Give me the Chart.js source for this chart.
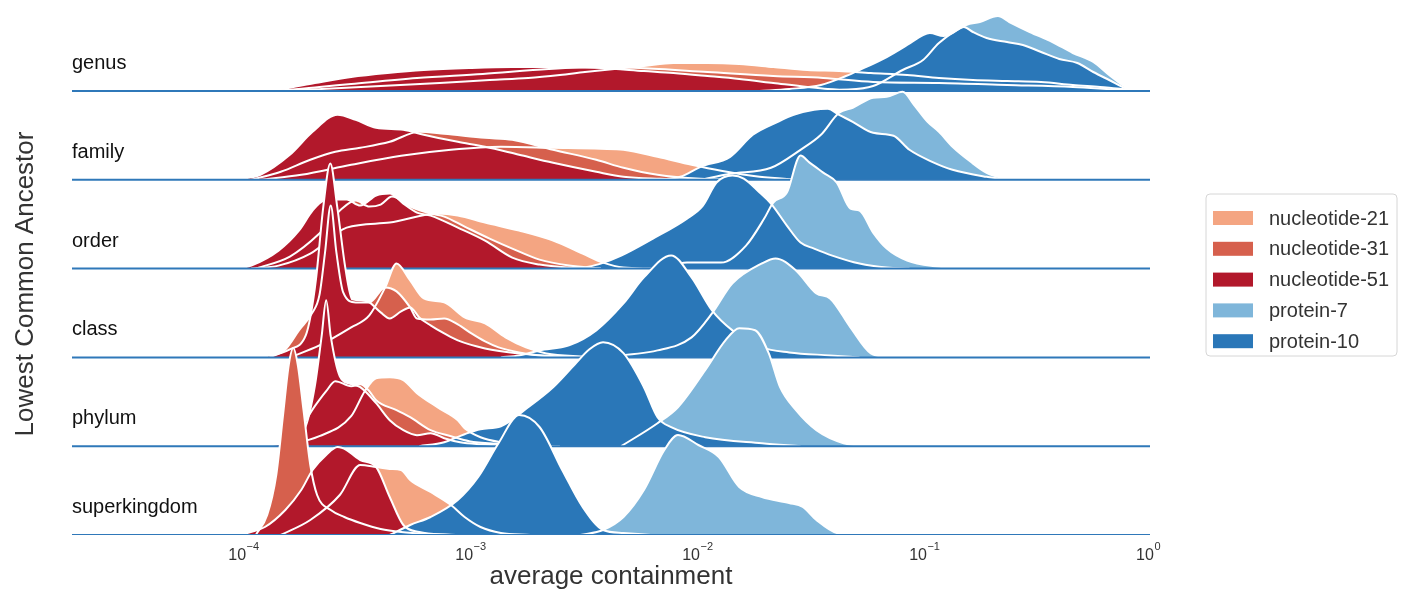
<!DOCTYPE html>
<html>
<head>
<meta charset="utf-8">
<script src="https://cdn.jsdelivr.net/npm/chart.js"></script>
<style>
html,body{margin:0;padding:0;background:#ffffff;overflow:hidden}
#wrap{position:relative;width:1407px;height:592px}
</style>
</head>
<body>
<div id="wrap"><canvas id="c" width="1407" height="592"></canvas></div>
<script>
// ---------------- categories / series / ticks ----------------
const ranks = ['genus', 'family', 'order', 'class', 'phylum', 'superkingdom'];
const seriesNames = ['nucleotide-21', 'nucleotide-31', 'nucleotide-51', 'protein-7', 'protein-10'];
const tickExponents = [-4, -3, -2, -1, 0];

// ---------------- density curves: [log10(average containment), relative density] ----------------
const genus_n21 = [[-4.40,0],[-3.74,1],[-3.65,2],[-3.39,5],[-3.13,8],[-2.91,11],[-2.74,13],[-2.60,16],[-2.49,19],[-2.36,22],[-2.23,25],[-2.10,28],[-1.95,28],[-1.81,27],[-1.66,24],[-1.51,21],[-1.37,20],[-1.23,18],[-1.07,16],[-0.93,13],[-0.78,11],[-0.63,10],[-0.48,9],[-0.34,6],[-0.22,4],[-0.12,2],[0,1]];
const genus_n31 = [[-4.50,0],[-3.96,0.5],[-3.81,1],[-3.66,4],[-3.52,7],[-3.23,13],[-2.94,17],[-2.65,22],[-2.42,24],[-2.25,23],[-1.95,19],[-1.66,15],[-1.44,13],[-1.22,9],[-0.93,8],[-0.63,6],[-0.34,4],[-0.12,1],[0,0]];
const genus_n51 = [[-4.50,0],[-4.01,0.5],[-3.83,2],[-3.68,8],[-3.52,14],[-3.36,18],[-3.20,21],[-3.00,23],[-2.81,24],[-2.62,24],[-2.42,23],[-2.23,20],[-2.10,18],[-1.95,15],[-1.81,12],[-1.66,8],[-1.51,4],[-1.42,2],[-1.23,0]];
const genus_p7  = [[-1.45,0],[-1.37,1],[-1.22,5],[-1.09,21],[-1.00,31],[-0.93,48],[-0.81,66],[-0.75,69],[-0.67,75],[-0.62,69],[-0.53,59],[-0.43,49],[-0.34,38],[-0.25,29],[-0.18,16],[-0.10,3],[-0.04,0]];
const genus_p10 = [[-1.72,0],[-1.59,2],[-1.45,6],[-1.34,15],[-1.28,21],[-1.16,34],[-1.07,46],[-1.00,56],[-0.97,58],[-0.91,55],[-0.87,58],[-0.82,64],[-0.78,59],[-0.72,53],[-0.63,49],[-0.56,46],[-0.48,39],[-0.40,32],[-0.32,28],[-0.25,19],[-0.18,11],[-0.10,2],[-0.04,0]];

const family_n21 = [[-3.92,0],[-3.74,5],[-3.52,15],[-3.30,24],[-3.08,30],[-2.86,33],[-2.63,32],[-2.42,31],[-2.32,30],[-2.17,23],[-2.02,15],[-1.89,9],[-1.72,3],[-1.54,0]];
const family_n31 = [[-3.96,0],[-3.83,8],[-3.70,20],[-3.59,28],[-3.48,32],[-3.35,38],[-3.22,48],[-3.11,46],[-2.93,42],[-2.81,40],[-2.63,30],[-2.44,20],[-2.32,12],[-2.17,5],[-1.98,1],[-1.81,0]];
const family_n51 = [[-4.03,0],[-3.92,5],[-3.79,25],[-3.69,48],[-3.58,65],[-3.50,60],[-3.41,52],[-3.29,50],[-3.20,45],[-3.05,38],[-2.93,33],[-2.78,25],[-2.63,17],[-2.44,8],[-2.32,3],[-2.16,1],[-1.98,0]];
const family_p7  = [[-1.98,0],[-1.85,6],[-1.67,12],[-1.54,30],[-1.45,45],[-1.37,67],[-1.31,72],[-1.22,82],[-1.16,83],[-1.09,88],[-1.04,75],[-0.98,58],[-0.93,48],[-0.87,33],[-0.79,18],[-0.72,7],[-0.65,2],[-0.57,0]];
const family_p10 = [[-2.16,0],[-2.07,3],[-1.98,13],[-1.85,23],[-1.75,45],[-1.64,58],[-1.57,65],[-1.48,70],[-1.42,71],[-1.37,65],[-1.31,58],[-1.22,47],[-1.13,44],[-1.06,30],[-0.96,18],[-0.87,10],[-0.72,3],[-0.62,0]];

const order_n21 = [[-3.96,0],[-3.84,3],[-3.70,15],[-3.54,41],[-3.35,46],[-3.14,55],[-3.05,53],[-2.93,46],[-2.78,38],[-2.63,28],[-2.50,15],[-2.41,6],[-2.32,1],[-2.20,0]];
const order_n31 = [[-3.94,0],[-3.79,12],[-3.66,35],[-3.56,60],[-3.50,68],[-3.44,62],[-3.39,64],[-3.34,72],[-3.26,62],[-3.17,55],[-3.11,52],[-3.02,42],[-2.91,30],[-2.81,20],[-2.69,9],[-2.56,3],[-2.42,0]];
const order_n51 = [[-4.01,0],[-3.96,3],[-3.84,18],[-3.75,38],[-3.69,58],[-3.64,68],[-3.59,69],[-3.54,69],[-3.48,63],[-3.41,73],[-3.35,75],[-3.29,65],[-3.23,56],[-3.17,53],[-3.05,41],[-2.93,28],[-2.81,11],[-2.69,4],[-2.56,1],[-2.42,0]];
const order_p7  = [[-2.16,0],[-2.04,6],[-1.89,6],[-1.78,23],[-1.70,50],[-1.66,66],[-1.60,76],[-1.54,113],[-1.50,106],[-1.44,96],[-1.38,86],[-1.32,60],[-1.28,58],[-1.22,36],[-1.16,20],[-1.07,8],[-0.94,2],[-0.84,0]];
const order_p10 = [[-2.51,0],[-2.42,5],[-2.33,13],[-2.19,30],[-2.04,50],[-1.97,63],[-1.91,86],[-1.84,93],[-1.79,90],[-1.72,76],[-1.67,65],[-1.60,43],[-1.54,26],[-1.48,20],[-1.40,13],[-1.28,5],[-1.16,1],[-1.06,0]];

const class_n21 = [[-3.79,0],[-3.66,12],[-3.52,30],[-3.44,42],[-3.37,70],[-3.32,94],[-3.26,77],[-3.20,59],[-3.11,55],[-3.02,40],[-2.93,34],[-2.84,20],[-2.75,10],[-2.66,4],[-2.51,1],[-2.38,0]];
const class_n31 = [[-3.88,0],[-3.81,8],[-3.75,27],[-3.69,45],[-3.66,62],[-3.635,105],[-3.61,152],[-3.585,105],[-3.555,65],[-3.50,55],[-3.44,55],[-3.37,70],[-3.32,66],[-3.26,50],[-3.23,39],[-3.17,38],[-3.11,39],[-3.05,33],[-2.99,24],[-2.93,16],[-2.87,10],[-2.78,5],[-2.64,1],[-2.51,0]];
const class_n51 = [[-3.92,0],[-3.79,8],[-3.72,22],[-3.70,40],[-3.674,80],[-3.643,150],[-3.612,194],[-3.581,150],[-3.546,90],[-3.515,58],[-3.47,57],[-3.44,55],[-3.39,45],[-3.35,39],[-3.30,46],[-3.26,50],[-3.22,40],[-3.17,32],[-3.11,24],[-3.05,17],[-2.93,9],[-2.78,4],[-2.60,1],[-2.42,0]];
const class_p7  = [[-2.48,0],[-2.17,7],[-2.02,20],[-1.93,44],[-1.84,74],[-1.71,94],[-1.65,99],[-1.56,87],[-1.47,64],[-1.41,59],[-1.32,30],[-1.23,4],[-1.15,0]];
const class_p10 = [[-2.86,0],[-2.78,2],[-2.69,7],[-2.56,12],[-2.44,27],[-2.32,54],[-2.23,80],[-2.11,102],[-2.02,80],[-1.93,47],[-1.84,27],[-1.71,10],[-1.59,5],[-1.41,2],[-1.28,0]];

const phylum_n21 = [[-3.83,0],[-3.66,10],[-3.52,30],[-3.46,55],[-3.41,68],[-3.35,69],[-3.29,66],[-3.23,53],[-3.14,39],[-3.05,26],[-3.02,18],[-2.95,9],[-2.86,4],[-2.73,1],[-2.60,0]];
const phylum_n31 = [[-3.90,0],[-3.77,10],[-3.68,40],[-3.63,55],[-3.59,65],[-3.52,60],[-3.48,62],[-3.44,55],[-3.41,46],[-3.32,36],[-3.26,29],[-3.17,16],[-3.08,10],[-3.00,5],[-2.86,2],[-2.73,0]];
const phylum_n51 = [[-3.92,0],[-3.79,5],[-3.72,20],[-3.68,60],[-3.65,110],[-3.63,146],[-3.61,110],[-3.57,70],[-3.52,62],[-3.48,59],[-3.41,43],[-3.35,26],[-3.29,16],[-3.23,11],[-3.17,13],[-3.11,8],[-3.04,4],[-2.95,2],[-2.78,0]];
const phylum_p7  = [[-2.33,0],[-2.17,23],[-2.08,39],[-1.96,76],[-1.87,106],[-1.81,118],[-1.74,116],[-1.68,93],[-1.63,59],[-1.56,36],[-1.47,16],[-1.35,3],[-1.23,0]];
const phylum_p10 = [[-3.22,0],[-3.11,4],[-3.02,12],[-2.95,17],[-2.86,20],[-2.74,39],[-2.63,59],[-2.53,83],[-2.47,97],[-2.41,104],[-2.32,93],[-2.23,59],[-2.17,29],[-2.11,19],[-1.96,9],[-1.71,3],[-1.54,0]];

const superkingdom_n21 = [[-3.83,0],[-3.70,15],[-3.57,40],[-3.48,70],[-3.41,68],[-3.35,66],[-3.30,65],[-3.26,55],[-3.17,43],[-3.08,30],[-3.02,18],[-2.95,8],[-2.86,2],[-2.73,0]];
const superkingdom_n31 = [[-3.94,0],[-3.89,20],[-3.85,60],[-3.82,120],[-3.795,170],[-3.775,187],[-3.755,170],[-3.73,125],[-3.70,70],[-3.67,40],[-3.61,25],[-3.55,18],[-3.48,12],[-3.39,6],[-3.30,3],[-3.17,1],[-3.04,0]];
const superkingdom_n51 = [[-4.01,0],[-3.90,8],[-3.81,25],[-3.74,45],[-3.69,65],[-3.63,80],[-3.58,88],[-3.54,85],[-3.50,78],[-3.48,75],[-3.41,68],[-3.35,38],[-3.29,10],[-3.22,3],[-3.08,0]];
const superkingdom_p7  = [[-2.51,0],[-2.41,5],[-2.32,18],[-2.23,45],[-2.14,85],[-2.08,100],[-1.99,90],[-1.90,78],[-1.81,48],[-1.71,38],[-1.59,32],[-1.53,28],[-1.47,15],[-1.38,2],[-1.28,0]];
const superkingdom_p10 = [[-3.35,0],[-3.26,10],[-3.17,18],[-3.05,35],[-2.96,58],[-2.87,92],[-2.78,120],[-2.69,108],[-2.59,65],[-2.50,28],[-2.41,5],[-2.32,2],[-2.20,0]];

// ---------------- styling / layout (kept out of the data) ----------------
const seriesColors = ['#f4a582', '#d6604d', '#b2182b', '#7fb6da', '#2a77b8'];
const baselineColor = '#2f78b9';
const ROW_GAP = 88.8;          // density units between ridge baselines
const Y_TOP = 530;             // top of the value axis in density units
const X_MIN = Math.pow(10, -4.75), X_MAX = 1;
const FONT = '"Liberation Sans", Arial, Helvetica, sans-serif';

const curvesByRank = {
  genus: [genus_n21, genus_n31, genus_n51, genus_p7, genus_p10],
  family: [family_n21, family_n31, family_n51, family_p7, family_p10],
  order: [order_n21, order_n31, order_n51, order_p7, order_p10],
  class: [class_n21, class_n31, class_n51, class_p7, class_p10],
  phylum: [phylum_n21, phylum_n31, phylum_n51, phylum_p7, phylum_p10],
  superkingdom: [superkingdom_n21, superkingdom_n31, superkingdom_n51, superkingdom_p7, superkingdom_p10]
};

const datasets = [];
ranks.forEach((rank, r) => {
  const off = (ranks.length - 1 - r) * ROW_GAP;
  const pts = curvesByRank[rank].map(c => c.map(([lx, d]) => ({x: Math.pow(10, lx), y: off + d})));
  pts.forEach((p, s) => datasets.push({
    label: rank + ' ' + seriesNames[s], data: p,
    backgroundColor: seriesColors[s], borderColor: 'rgba(0,0,0,0)', borderWidth: 1,
    fill: {value: off}, pointRadius: 0, cubicInterpolationMode: 'monotone'
  }));
  pts.forEach((p, s) => datasets.push({
    label: rank + ' ' + seriesNames[s] + ' outline', data: p,
    borderColor: '#ffffff', borderWidth: 2, fill: false,
    pointRadius: 0, cubicInterpolationMode: 'monotone'
  }));
  datasets.push({
    label: rank + ' baseline', data: [{x: X_MIN, y: off}, {x: X_MAX, y: off}],
    borderColor: baselineColor, borderWidth: 2, fill: false, pointRadius: 0
  });
});
datasets.forEach((d, i) => { d.order = datasets.length - i; });

const decor = {
  id: 'decor',
  afterDraw(chart) {
    const {ctx, chartArea, scales} = chart;
    const y = scales.y, x = scales.x;
    ctx.save();
    // ridge labels
    ctx.font = '20px ' + FONT;
    ctx.fillStyle = '#111111';
    ctx.textAlign = 'left';
    ctx.textBaseline = 'alphabetic';
    ranks.forEach((rank, r) => {
      const base = y.getPixelForValue((ranks.length - 1 - r) * ROW_GAP);
      ctx.fillText(rank, chartArea.left, base - 22);
    });
    // exponents of the x tick labels
    ctx.fillStyle = '#333333';
    ctx.font = '16px ' + FONT;
    const baseW = ctx.measureText('10').width;
    ctx.font = '11px ' + FONT;
    tickExponents.forEach(e => {
      const px = x.getPixelForValue(Math.pow(10, e));
      ctx.fillText((e < 0 ? '\u2212' : '') + Math.abs(e), px - 5 + baseW / 2 + 0.5, 550);
    });
    // y-axis title
    ctx.save();
    ctx.font = '26px ' + FONT;
    ctx.fillStyle = '#333333';
    ctx.translate(33, 284);
    ctx.rotate(-Math.PI / 2);
    ctx.textAlign = 'center';
    ctx.fillText('Lowest Common Ancestor', 0, 0);
    ctx.restore();
    // legend
    const bx = 1206, by = 194, bw = 191, bh = 162, rad = 4;
    ctx.beginPath();
    ctx.moveTo(bx + rad, by);
    ctx.arcTo(bx + bw, by, bx + bw, by + bh, rad);
    ctx.arcTo(bx + bw, by + bh, bx, by + bh, rad);
    ctx.arcTo(bx, by + bh, bx, by, rad);
    ctx.arcTo(bx, by, bx + bw, by, rad);
    ctx.closePath();
    ctx.fillStyle = '#ffffff';
    ctx.fill();
    ctx.strokeStyle = '#d6d6d6';
    ctx.lineWidth = 1;
    ctx.stroke();
    ctx.font = '20px ' + FONT;
    ctx.textBaseline = 'middle';
    seriesNames.forEach((name, i) => {
      const cy = 218 + i * 30.8;
      ctx.fillStyle = seriesColors[i];
      ctx.fillRect(1213, cy - 7, 40, 14);
      ctx.fillStyle = '#333333';
      ctx.fillText(name, 1269, cy + 1);
    });
    ctx.restore();
  }
};

new Chart(document.getElementById('c'), {
  type: 'line',
  data: {datasets},
  options: {
    responsive: false,
    animation: false,
    devicePixelRatio: 1,
    events: [],
    layout: {padding: {left: 72, right: 257, top: 5, bottom: 0}},
    plugins: {legend: {display: false}, tooltip: {enabled: false}},
    scales: {
      x: {
        type: 'logarithmic', min: X_MIN, max: X_MAX,
        grid: {display: false, drawTicks: false},
        border: {display: false},
        afterFit: s => { s.height = 57; },
        ticks: {
          autoSkip: false, maxRotation: 0, padding: 11, labelOffset: -5,
          color: '#333333', font: {family: FONT, size: 16},
          callback: v => {
            const e = Math.round(Math.log10(v));
            if (Math.abs(Math.log10(v) - e) < 1e-6 && tickExponents.includes(e)) return '10';
            return '';
          }
        },
        title: {display: true, text: 'average containment', color: '#333333',
                font: {family: FONT, size: 26}, padding: {top: 0, bottom: 0}}
      },
      y: {type: 'linear', display: false, min: 0, max: Y_TOP}
    }
  },
  plugins: [decor]
});
</script>
</body>
</html>
